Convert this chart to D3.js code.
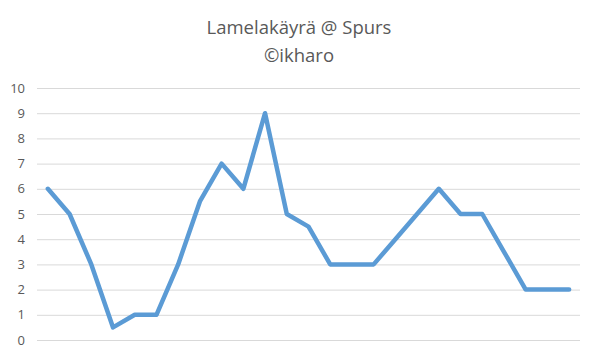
<!DOCTYPE html>
<html>
<head>
<meta charset="utf-8">
<script src="https://cdn.jsdelivr.net/npm/d3@7.9.0/dist/d3.min.js"></script>
<style>
  body { margin: 0; background: #fff; }
  svg { display: block; font-family: "Open Sans", "Noto Sans", sans-serif; }
</style>
</head>
<body>
<div id="chart"></div>
<script>
// Data
const games = d3.range(1, 26);
const values = [6, 5, 3, 0.5, 1, 1, 3, 5.5, 7, 6, 9, 5, 4.5, 3, 3, 3, 4, 5, 6, 5, 5, 3.5, 2, 2, 2];
const yTicks = d3.range(0, 11);
const titleLines = ['Lamelakäyrä @ Spurs', '©ikharo'];

const width = 598;
const height = 357;
const margin = { top: 88, right: 18, bottom: 17, left: 37 };

const svg = d3.select('#chart')
  .append('svg')
  .attr('width', width)
  .attr('height', height);

// Scales
const xScale = d3.scaleBand()
  .domain(games)
  .range([margin.left, width - margin.right]);

const yScale = d3.scaleLinear()
  .domain([0, 10])
  .range([height - margin.bottom, margin.top]);

// Gridlines
svg.append('g')
  .attr('transform', `translate(${margin.left},0)`)
  .call(d3.axisLeft(yScale).tickValues(yTicks).tickFormat('').tickSize(-(width - margin.left - margin.right)))
  .call(g => g.select('.domain').remove())
  .selectAll('line')
  .attr('stroke', '#d9d9d9')
  .attr('stroke-width', 1);

// Y axis labels
svg.append('g')
  .attr('transform', `translate(${margin.left},0)`)
  .call(d3.axisLeft(yScale).tickValues(yTicks).tickSize(0).tickPadding(12))
  .call(g => g.select('.domain').remove())
  .selectAll('text')
  .attr('fill', '#595959')
  .attr('font-size', '13px')
  .attr('font-family', '"Open Sans", sans-serif');

// Line
const line = d3.line()
  .x((d, i) => xScale(games[i]) + xScale.bandwidth() / 2)
  .y(d => yScale(d));

svg.append('path')
  .datum(values)
  .attr('fill', 'none')
  .attr('stroke', '#5b9bd5')
  .attr('stroke-width', 4.5)
  .attr('stroke-linejoin', 'round')
  .attr('stroke-linecap', 'round')
  .attr('d', line);

// Title
svg.append('g')
  .selectAll('text')
  .data(titleLines)
  .join('text')
  .attr('x', width / 2)
  .attr('y', (d, i) => 34 + i * 28)
  .attr('text-anchor', 'middle')
  .attr('fill', '#595959')
  .attr('font-size', '18.5px')
  .text(d => d);
</script>
</body>
</html>
